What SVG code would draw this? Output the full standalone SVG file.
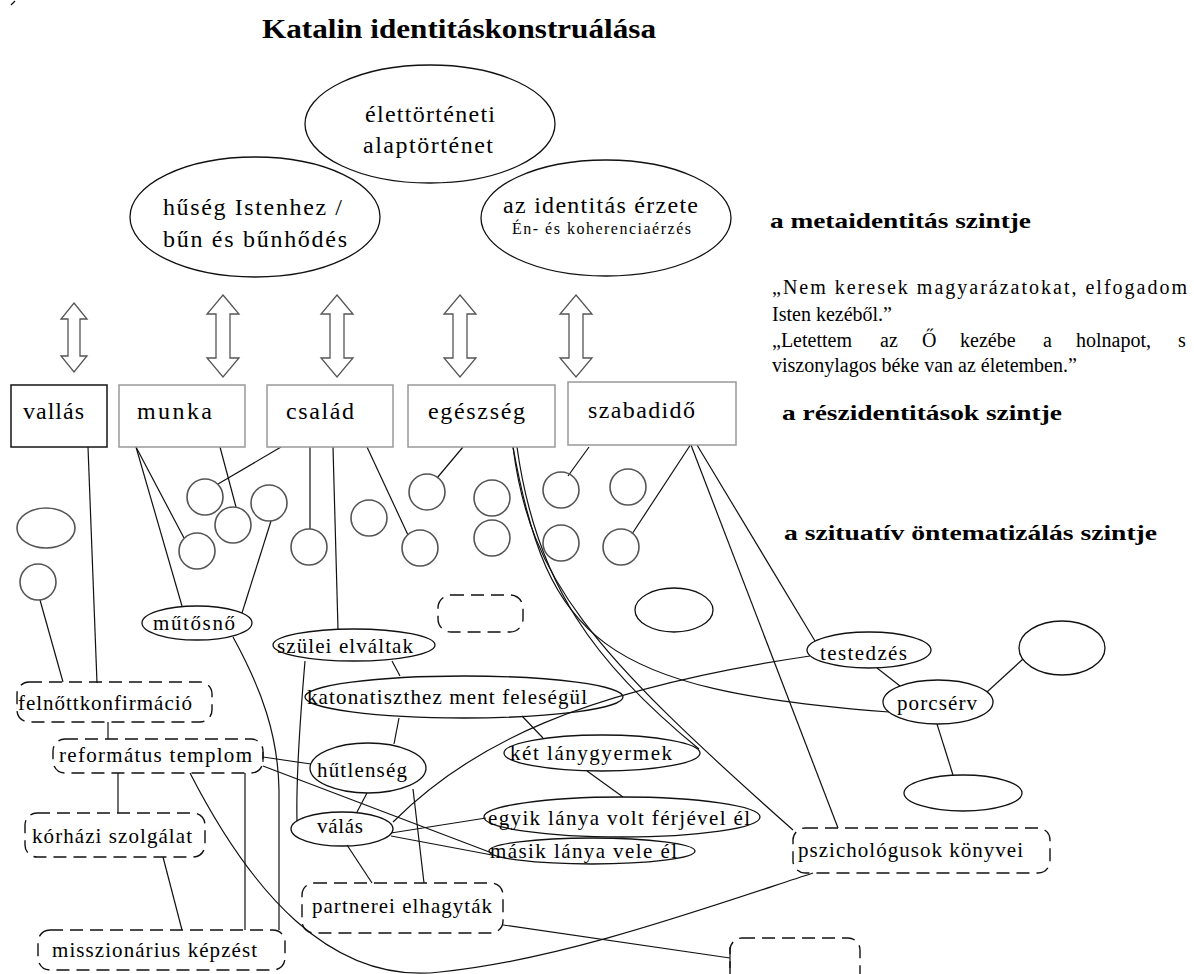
<svg xmlns="http://www.w3.org/2000/svg" width="1194" height="974" viewBox="0 0 1194 974">
  <style>
    .t { font-family: "Liberation Serif", "Times New Roman", serif; fill: #000; }
    .big { font-size: 24px; }
    .node { font-size: 21px; }
    .boxt { font-size: 24px; }
    .lbl { font-size: 22px; font-weight: bold; }
    .quote { font-size: 20px; }
    .ell { fill: none; stroke: #111; stroke-width: 1.3; }
    .circ { fill: none; stroke: #555; stroke-width: 1.6; }
    .box { fill: #fff; stroke: #999; stroke-width: 1.5; }
    .boxk { fill: #fff; stroke: #222; stroke-width: 1.6; }
    .dash { fill: none; stroke: #111; stroke-width: 1.4; stroke-dasharray: 13 7; }
    .arrow { fill: #fff; stroke: #555; stroke-width: 1.3; stroke-linejoin: miter; }
    .link { fill: none; stroke: #111; stroke-width: 1.2; }
  </style>

  <!-- corner mark -->
  <path class="link" d="M11,5 L15,1"/>

  <!-- title -->
  <text class="t" x="262" y="38" font-size="28" font-weight="bold" textLength="394" lengthAdjust="spacingAndGlyphs">Katalin identitáskonstruálása</text>

  <!-- meta level ellipses -->
  <g id="alaptortenet">
    <ellipse class="ell" cx="430" cy="124" rx="125" ry="59"/>
    <text class="t big" x="365" y="122" textLength="130">élettörténeti</text>
    <text class="t big" x="363" y="153" textLength="130">alaptörténet</text>
  </g>
  <g id="huseg">
    <ellipse class="ell" cx="255" cy="217" rx="125" ry="60"/>
    <text class="t big" x="163" y="215" textLength="179">hűség Istenhez /</text>
    <text class="t big" x="163" y="247" textLength="184">bűn és bűnhődés</text>
  </g>
  <g id="identitas">
    <ellipse class="ell" cx="606" cy="218" rx="125" ry="58"/>
    <text class="t big" x="503" y="213" textLength="195">az identitás érzete</text>
    <text class="t" x="512" y="234" font-size="16" textLength="179">Én- és koherenciaérzés</text>
  </g>

  <!-- level labels and quote -->
  <g id="labels">
    <text class="t lbl" x="770" y="228" textLength="261" lengthAdjust="spacingAndGlyphs">a metaidentitás szintje</text>
    <text class="t lbl" x="782" y="420" textLength="280" lengthAdjust="spacingAndGlyphs">a részidentitások szintje</text>
    <text class="t lbl" x="784" y="540" textLength="373" lengthAdjust="spacingAndGlyphs">a szituatív öntematizálás szintje</text>
  </g>
  <g id="quote">
    <text class="t quote" x="772" y="294" textLength="415">„Nem keresek magyarázatokat, elfogadom</text>
    <text class="t quote" x="772" y="321">Isten kezéből.”</text>
    <text class="t quote" y="347">
      <tspan x="772">„Letettem</tspan>
      <tspan x="880">az</tspan>
      <tspan x="922">Ő</tspan>
      <tspan x="960">kezébe</tspan>
      <tspan x="1043">a</tspan>
      <tspan x="1076">holnapot,</tspan>
      <tspan x="1178">s</tspan>
    </text>
    <text class="t quote" x="772" y="372">viszonylagos béke van az életemben.”</text>
  </g>

  <!-- double arrows between levels -->
  <g id="arrows">
    <polygon class="arrow" points="74,303 87,319 80,319 80,356 87,356 74,372 61,356 68,356 68,319 61,319"/>
    <polygon class="arrow" points="223,295 239,314 230,314 230,358 239,358 223,377 207,358 216,358 216,314 207,314"/>
    <polygon class="arrow" points="337,295 353,314 344,314 344,358 353,358 337,377 321,358 330,358 330,314 321,314"/>
    <polygon class="arrow" points="460,295 476,314 467,314 467,358 476,358 460,377 444,358 453,358 453,314 444,314"/>
    <polygon class="arrow" points="576,295 592,314 583,314 583,358 592,358 576,377 560,358 569,358 569,314 560,314"/>
  </g>

  <!-- connectors -->
  <g id="connectors">
    <path class="link" d="M88,447 L97,683"/>
    <path class="link" d="M40,600 L63,682"/>
    <path class="link" d="M108,722 L108,739"/>
    <path class="link" d="M118,773 L118,813"/>
    <path class="link" d="M163,857 L182,930"/>
    <path class="link" d="M245,773 L245,930"/>
    <path class="link" d="M136,447 L182,606"/>
    <path class="link" d="M136,447 L184,538"/>
    <path class="link" d="M220,447 L236,507"/>
    <path class="link" d="M271,521 L242,613"/>
    <path class="link" d="M281,447 L218,484"/>
    <path class="link" d="M310,447 L310,529"/>
    <path class="link" d="M333,447 L338,629"/>
    <path class="link" d="M367,447 L408,535"/>
    <path class="link" d="M463,447 L437,478"/>
    <path class="link" d="M589,447 L568,476"/>
    <path class="link" d="M691,444 L632,534"/>
    <path class="link" d="M233,637 C262,690 278,735 279,790 L279,930"/>
    <path class="link" d="M305,661 C300,720 296,780 297,821"/>
    <path class="link" d="M392,661 L400,676"/>
    <path class="link" d="M399,718 L394,744"/>
    <path class="link" d="M522,716 L543,738"/>
    <path class="link" d="M587,771 L623,797"/>
    <path class="link" d="M263,757 L311,764 M263,752 L263,762"/>
    <path class="link" d="M263,766 L492,853"/>
    <path class="link" d="M367,793 L357,812"/>
    <path class="link" d="M413,789 L424,883"/>
    <path class="link" d="M347,845 L372,883"/>
    <path class="link" d="M391,833 L486,818"/>
    <path class="link" d="M391,836 L492,855"/>
    <path class="link" d="M393,822 C470,745 580,690 810,656"/>
    <path class="link" d="M503,925 L730,958 M730,947 L730,968"/>
    <path class="link" d="M190,773 C250,890 330,985 440,972 C560,960 700,910 813,873"/>
    <path class="link" d="M513,447 C548,640 600,690 889,712"/>
    <path class="link" d="M513,447 C530,580 590,650 793,830"/>
    <path class="link" d="M517,447 C536,585 596,665 699,749"/>
    <path class="link" d="M697,445 L815,641"/>
    <path class="link" d="M691,445 L838,828"/>
    <path class="link" d="M877,668 L900,686"/>
    <path class="link" d="M987,692 L1023,659"/>
    <path class="link" d="M937,724 L953,775"/>
  </g>

  <!-- partial identity boxes -->
  <g id="vallas"><rect class="boxk" x="11" y="385" width="96" height="62"/><text class="t boxt" x="23" y="419" textLength="61">vallás</text></g>
  <g id="munka"><rect class="box" x="119" y="385" width="126" height="62"/><text class="t boxt" x="137" y="419" textLength="75">munka</text></g>
  <g id="csalad"><rect class="box" x="267" y="385" width="126" height="62"/><text class="t boxt" x="286" y="419" textLength="68">család</text></g>
  <g id="egeszseg"><rect class="box" x="408" y="385" width="147" height="62"/><text class="t boxt" x="428" y="419" textLength="97">egészség</text></g>
  <g id="szabadido"><rect class="box" x="568" y="382" width="168" height="63"/><text class="t boxt" x="588" y="418" textLength="107">szabadidő</text></g>

  <!-- situational circles -->
  <g id="situations">
    <ellipse class="circ" cx="46" cy="528" rx="29" ry="20"/>
    <circle class="circ" cx="38" cy="582" r="18"/>
    <circle class="circ" cx="205" cy="497" r="18"/>
    <circle class="circ" cx="233" cy="525" r="18"/>
    <circle class="circ" cx="269" cy="503" r="18"/>
    <circle class="circ" cx="197" cy="551" r="18"/>
    <circle class="circ" cx="309" cy="547" r="18"/>
    <circle class="circ" cx="369" cy="518" r="18"/>
    <circle class="circ" cx="420" cy="548" r="18"/>
    <circle class="circ" cx="427" cy="492" r="18"/>
    <circle class="circ" cx="492" cy="498" r="18"/>
    <circle class="circ" cx="492" cy="538" r="18"/>
    <circle class="circ" cx="561" cy="490" r="18"/>
    <circle class="circ" cx="628" cy="487" r="18"/>
    <circle class="circ" cx="561" cy="543" r="18"/>
    <circle class="circ" cx="621" cy="547" r="18"/>
  </g>

  <!-- episode nodes -->
  <g id="mutosno"><ellipse class="ell" cx="197" cy="623" rx="55" ry="17"/><text class="t node" x="153" y="630" textLength="82">műtősnő</text></g>
  <g id="ures-1"><rect class="dash" x="438" y="595" width="85" height="37" rx="13"/></g>
  <g id="ures-2"><ellipse class="ell" cx="674" cy="610" rx="39" ry="22"/></g>
  <g id="szulei"><ellipse class="ell" cx="354" cy="645" rx="81" ry="16"/><text class="t node" x="277" y="653" textLength="136">szülei elváltak</text></g>
  <g id="testedzes"><ellipse class="ell" cx="869" cy="650" rx="62" ry="18"/><text class="t node" x="820" y="660" textLength="87">testedzés</text></g>
  <g id="ures-3"><ellipse class="ell" cx="1062" cy="648" rx="43" ry="27"/></g>
  <g id="felnott"><rect class="dash" x="17" y="682" width="195" height="40" rx="12"/><text class="t node" x="18" y="710" textLength="174">felnőttkonfirmáció</text></g>
  <g id="katonatiszt"><ellipse class="ell" cx="464" cy="697" rx="159" ry="21"/><text class="t node" x="307" y="704" textLength="280">katonatiszthez ment feleségül</text></g>
  <g id="porcserv"><ellipse class="ell" cx="938" cy="702" rx="55" ry="22"/><text class="t node" x="897" y="710" textLength="80">porcsérv</text></g>
  <g id="templom"><rect class="dash" x="53" y="739" width="210" height="34" rx="12"/><text class="t node" x="59" y="762" textLength="193">református templom</text></g>
  <g id="hutlenseg"><ellipse class="ell" cx="368" cy="768" rx="58" ry="25"/><text class="t node" x="317" y="777" textLength="90">hűtlenség</text></g>
  <g id="ket-lany"><ellipse class="ell" cx="602" cy="753" rx="98" ry="18"/><text class="t node" x="510" y="760" textLength="162">két lánygyermek</text></g>
  <g id="ures-4"><ellipse class="ell" cx="963" cy="793" rx="59" ry="18"/></g>
  <g id="egyik-lanya"><ellipse class="ell" cx="622" cy="817" rx="138" ry="20"/><text class="t node" x="488" y="825" textLength="262">egyik lánya volt férjével él</text></g>
  <g id="valas"><ellipse class="ell" cx="342" cy="829" rx="51" ry="17"/><text class="t node" x="317" y="833" textLength="46">válás</text></g>
  <g id="masik-lanya"><ellipse class="ell" cx="592" cy="851" rx="103" ry="13"/><text class="t node" x="490" y="858" textLength="187">másik lánya vele él</text></g>
  <g id="korhazi"><rect class="dash" x="25" y="813" width="180" height="44" rx="12"/><text class="t node" x="32" y="843" textLength="160">kórházi szolgálat</text></g>
  <g id="pszichologus"><rect class="dash" x="793" y="828" width="257" height="45" rx="12"/><text class="t node" x="798" y="857" textLength="225">pszichológusok könyvei</text></g>
  <g id="partnerei"><rect class="dash" x="302" y="883" width="201" height="50" rx="12"/><text class="t node" x="312" y="913" textLength="180">partnerei elhagyták</text></g>
  <g id="misszio"><rect class="dash" x="38" y="930" width="247" height="40" rx="12"/><text class="t node" x="52" y="957" textLength="205">misszionárius képzést</text></g>
  <g id="ures-5"><rect class="dash" x="730" y="938" width="130" height="52" rx="12"/></g>
</svg>
